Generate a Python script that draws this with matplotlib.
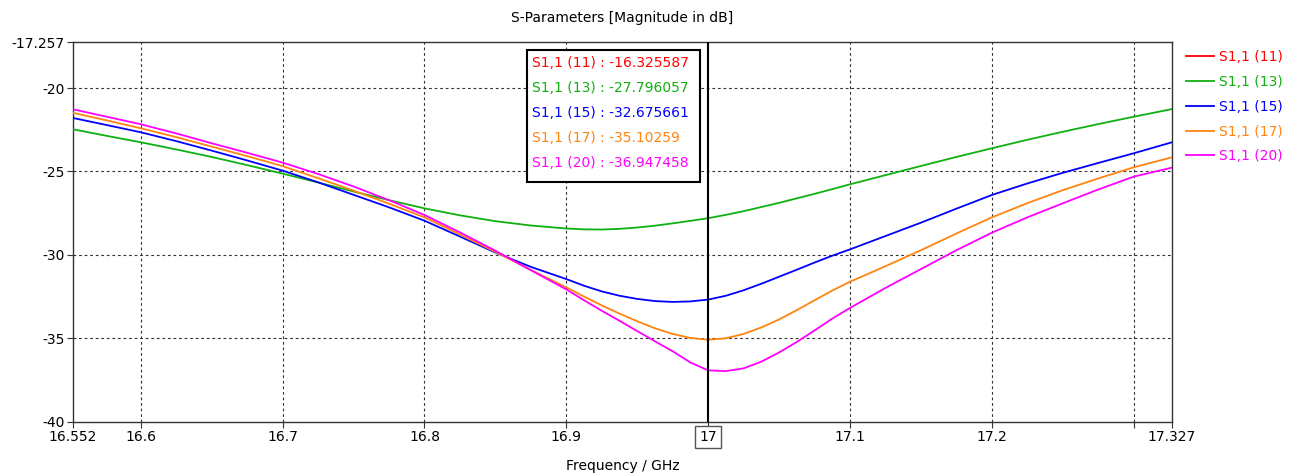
import matplotlib
matplotlib.use("Agg")
import matplotlib.pyplot as plt
from matplotlib.patches import Rectangle

# ---------------- data ----------------
freq = [16.552, 16.575, 16.6, 16.625, 16.65, 16.675, 16.7, 16.725, 16.75, 16.775, 16.8,
        16.825, 16.85, 16.875, 16.9, 16.9125, 16.925, 16.9375, 16.95, 16.9625, 16.975,
        16.9875, 17.0, 17.0125, 17.025, 17.0375, 17.05, 17.0625, 17.075, 17.0875, 17.1,
        17.125, 17.15, 17.175, 17.2, 17.225, 17.25, 17.275, 17.3, 17.327]

s11_13 = [-22.47, -22.85, -23.25, -23.68, -24.13, -24.62, -25.13, -25.66, -26.20, -26.72, -27.21,
          -27.63, -27.98, -28.24, -28.42, -28.47, -28.48, -28.44, -28.36, -28.25, -28.11,
          -27.96, -27.80, -27.60, -27.38, -27.13, -26.88, -26.61, -26.34, -26.06, -25.77,
          -25.22, -24.67, -24.13, -23.61, -23.10, -22.62, -22.16, -21.72, -21.26]
s11_15 = [-21.79, -22.20, -22.65, -23.18, -23.75, -24.34, -24.95, -25.65, -26.40, -27.15, -27.95,
          -28.90, -29.86, -30.72, -31.45, -31.85, -32.19, -32.45, -32.64, -32.77, -32.82,
          -32.79, -32.68, -32.45, -32.12, -31.73, -31.31, -30.89, -30.46, -30.05, -29.67,
          -28.87, -28.07, -27.23, -26.41, -25.72, -25.08, -24.49, -23.91, -23.25]
s11_17 = [-21.48, -21.92, -22.41, -22.94, -23.51, -24.08, -24.68, -25.40, -26.15, -26.93, -27.75,
          -28.78, -29.82, -30.90, -31.95, -32.50, -33.03, -33.52, -33.98, -34.40, -34.74,
          -34.98, -35.09, -35.00, -34.74, -34.35, -33.87, -33.31, -32.72, -32.14, -31.61,
          -30.68, -29.72, -28.72, -27.75, -26.90, -26.12, -25.42, -24.75, -24.15]
s11_20 = [-21.27, -21.70, -22.17, -22.72, -23.31, -23.88, -24.47, -25.15, -25.90, -26.72, -27.61,
          -28.65, -29.75, -30.92, -32.07, -32.72, -33.35, -33.95, -34.57, -35.18, -35.78,
          -36.45, -36.92, -36.97, -36.80, -36.40, -35.85, -35.22, -34.53, -33.82, -33.18,
          -31.98, -30.85, -29.72, -28.67, -27.75, -26.91, -26.08, -25.31, -24.77]
# S1,1 (11) lies above the displayed range; only its marker value is known
s11_11_freq = [17.0]
s11_11 = [-16.325587]

labels = ["S1,1 (11)", "S1,1 (13)", "S1,1 (15)", "S1,1 (17)", "S1,1 (20)"]
colors = ["#ff0000", "#10b010", "#0000ff", "#ff8410", "#ff00ff"]
marker_freq = 17.0
marker_values = ["-16.325587", "-27.796057", "-32.675661", "-35.10259", "-36.947458"]

xlim = (16.552, 17.327)
ylim = (-40, -17.257)
xticks = [16.552, 16.6, 16.7, 16.8, 16.9, 17.0, 17.1, 17.2, 17.3, 17.327]
xticklabels = ["16.552", "16.6", "16.7", "16.8", "16.9", "17", "17.1", "17.2", "", "17.327"]
xgrid = [16.6, 16.7, 16.8, 16.9, 17.1, 17.2, 17.3]
yticks = [-40, -35, -30, -25, -20, -17.257]
yticklabels = ["-40", "-35", "-30", "-25", "-20", "-17.257"]
ygrid = [-35, -30, -25, -20]

# ---------------- figure ----------------
plt.rcParams["font.family"] = ["DejaVu Sans"]
fig = plt.figure(figsize=(13.04, 4.76), dpi=100)
ax = fig.add_axes([72.7 / 1304, 1 - 421.7 / 476, (1172 - 72.7) / 1304, (421.7 - 42.3) / 476])

for g in xgrid:
    ax.axvline(g, color="#333333", lw=0.8, ls=(0, (2.5, 2.5)), zorder=1)
for g in ygrid:
    ax.axhline(g, color="#333333", lw=0.8, ls=(0, (2.5, 2.5)), zorder=1)

series = [(s11_11_freq, s11_11), (freq, s11_13), (freq, s11_15), (freq, s11_17), (freq, s11_20)]
handles = []
for (fx, fy), lab, c in zip(series, labels, colors):
    h, = ax.plot(fx, fy, color=c, lw=1.3, label=lab, zorder=3)
    handles.append(h)

ax.axvline(marker_freq, color="black", lw=1.5, zorder=4)

ax.set_xlim(*xlim)
ax.set_ylim(*ylim)
ax.set_xticks(xticks)
ax.set_xticklabels(xticklabels)
ax.set_yticks(yticks)
ax.set_yticklabels(yticklabels)
ax.tick_params(axis="both", direction="out", length=4, width=0.8, color="#333333",
               labelsize=10, labelcolor="black", pad=2)
for sp in ax.spines.values():
    sp.set_color("#333333")
    sp.set_linewidth(1.0)

for t in ax.get_xticklabels():
    if t.get_text() == "17":
        t.set_bbox(dict(boxstyle="square,pad=0.3", fc="white", ec="#555555", lw=1.0))

ax.set_xlabel("Frequency / GHz", fontsize=10, labelpad=11)
fig.text(622 / 1304, 1 - 18 / 476, "S-Parameters [Magnitude in dB]", ha="center", va="center",
         fontsize=10)

# marker readout box
box = Rectangle((527 / 1304, 1 - 182 / 476), (700 - 527) / 1304, (182 - 50) / 476,
                transform=fig.transFigure, fc="white", ec="black", lw=1.5, zorder=10)
fig.patches.append(box)
for i, (lab, val, c) in enumerate(zip(labels, marker_values, colors)):
    fig.text(532 / 1304, 1 - (63 + 25 * i) / 476, f"{lab} : {val}", color=c, fontsize=10,
             ha="left", va="center", zorder=11)

leg = fig.legend(handles=handles, labels=labels, loc="upper left",
                 bbox_to_anchor=(1186 / 1304, 1 - 50 / 476), frameon=False, fontsize=10,
                 handlelength=2.0, handletextpad=0.4, labelspacing=0.78, borderpad=0,
                 borderaxespad=0)
for t, c in zip(leg.get_texts(), colors):
    t.set_color(c)

fig.savefig("out.png", dpi=100)
